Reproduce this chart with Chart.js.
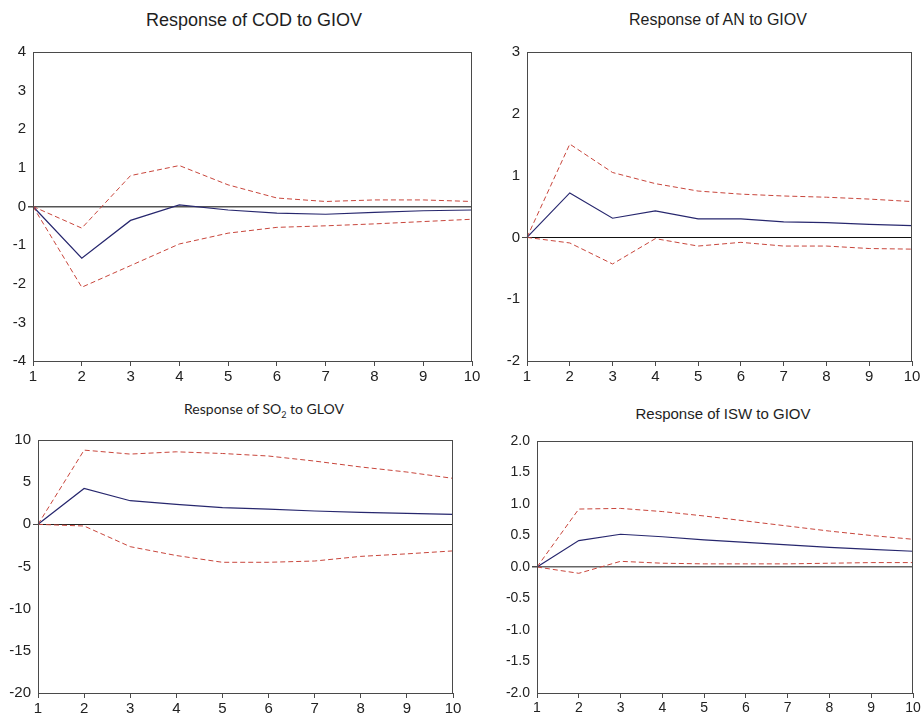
<!DOCTYPE html>
<html>
<head>
<meta charset="utf-8">
<script src="https://cdn.jsdelivr.net/npm/chart.js@4.4.1/dist/chart.umd.min.js"></script>
<style>
  body { margin: 0; background: #fff; width: 922px; height: 713px; position: relative; overflow: hidden; }
  canvas { position: absolute; }
  .ttl { position: absolute; color: #1e1e1e; white-space: nowrap; transform: translate(-50%, -50%); }
</style>
</head>
<body>
<div class="ttl" style="left:254px;top:20px;font:18px 'Liberation Sans',Arial,sans-serif;">Response of COD to GIOV</div>
<div class="ttl" style="left:718px;top:20px;font:16px 'Liberation Sans',Arial,sans-serif;">Response of AN to GIOV</div>
<div class="ttl" style="left:264px;top:410px;font:14px Lato,'Noto Sans',sans-serif;">Response of SO<sub style="font-size:9px">2</sub> to GLOV</div>
<div class="ttl" style="left:723px;top:413px;font:15px 'Liberation Sans',Arial,sans-serif;">Response of ISW to GIOV</div>

<canvas id="chartCod" width="486" height="346" style="left:0;top:40px"></canvas>
<canvas id="chartAn" width="432" height="346" style="left:490px;top:40px"></canvas>
<canvas id="chartSo2" width="467" height="285" style="left:0;top:428px"></canvas>
<canvas id="chartIsw" width="432" height="284" style="left:490px;top:429px"></canvas>

<script>
// periods after the shock
const periods = ['1', '2', '3', '4', '5', '6', '7', '8', '9', '10'];

// COD
const codResp  = [0, -1.34, -0.36, 0.04, -0.09, -0.17, -0.20, -0.15, -0.11, -0.09];
const codUpper = [0, -0.56, 0.80, 1.06, 0.56, 0.22, 0.13, 0.17, 0.17, 0.13];
const codLower = [0, -2.09, -1.53, -0.97, -0.69, -0.54, -0.50, -0.45, -0.39, -0.33];

// AN
const anResp  = [0, 0.72, 0.31, 0.43, 0.30, 0.30, 0.25, 0.24, 0.21, 0.19];
const anUpper = [0, 1.51, 1.05, 0.87, 0.75, 0.70, 0.67, 0.65, 0.62, 0.58];
const anLower = [0, -0.09, -0.43, -0.02, -0.14, -0.08, -0.14, -0.14, -0.18, -0.19];

// SO2
const so2Resp  = [0, 4.26, 2.80, 2.37, 1.97, 1.80, 1.58, 1.42, 1.30, 1.18];
const so2Upper = [0, 8.80, 8.33, 8.60, 8.40, 8.10, 7.50, 6.80, 6.20, 5.45];
const so2Lower = [0, -0.20, -2.65, -3.70, -4.50, -4.50, -4.35, -3.80, -3.50, -3.15];

// ISW
const iswResp  = [0, 0.42, 0.52, 0.48, 0.43, 0.39, 0.35, 0.31, 0.28, 0.25];
const iswUpper = [0, 0.92, 0.93, 0.88, 0.81, 0.73, 0.65, 0.57, 0.50, 0.44];
const iswLower = [0, -0.10, 0.09, 0.06, 0.05, 0.05, 0.05, 0.06, 0.07, 0.07];

// y axis ranges: [min, max, step]
const codRange = [-4, 4, 1];
const anRange  = [-2, 3, 1];
const so2Range = [-20, 10, 5];
const iswRange = [-2, 2, 0.5];

// box around the plot area
const frame = {
    id: 'frame',
    afterDatasetsDraw(chart) {
        const a = chart.chartArea;
        const ctx = chart.ctx;
        ctx.save();
        ctx.strokeStyle = '#4a4a4a';
        ctx.lineWidth = 1;
        ctx.strokeRect(Math.round(a.left) + 0.5, Math.round(a.top) + 0.5,
                       Math.round(a.right - a.left) - 1, Math.round(a.bottom - a.top));
        ctx.restore();
    }
};

function band(data) {
    return {
        data: data,
        borderColor: '#c8463c',
        borderWidth: 1,
        borderDash: [5, 3],
        pointRadius: 0,
        tension: 0,
        fill: false
    };
}

function makePanel(id, resp, upper, lower, range, opt)
{
    let chartData = {
        labels: periods,
        datasets: [
            band(upper),
            band(lower),
            {
                data: resp,
                borderColor: '#27276e',
                borderWidth: 1.2,
                pointRadius: 0,
                tension: 0,
                fill: false
            }
        ]
    };

    let config = {
        type: 'line',
        data: chartData,
        options: {
            responsive: false,
            animation: false,
            layout: { padding: { top: 12, right: opt.padRight, left: 0, bottom: 0 } },
            plugins: {
                legend: { display: false },
                tooltip: { enabled: false }
            },
            scales: {
                x: {
                    offset: false,
                    border: { display: false },
                    grid: { drawOnChartArea: false, drawTicks: true, tickLength: 5, tickColor: '#4a4a4a' },
                    ticks: {
                        color: '#222',
                        padding: 2,
                        maxRotation: 0,
                        autoSkip: false,
                        font: { family: "'Liberation Sans', Arial, sans-serif", size: opt.fontSize }
                    },
                    afterFit: (scale) => {
                        scale.height = opt.xHeight;
                        scale.paddingLeft = 0;
                        scale.paddingRight = 0;
                    }
                },
                y: {
                    min: range[0],
                    max: range[1],
                    border: { display: false },
                    grid: {
                        color: (c) => c.tick && c.tick.value === 0 ? opt.zeroColor : 'rgba(0,0,0,0)',
                        lineWidth: (c) => c.tick && c.tick.value === 0 ? opt.zeroWidth : 0,
                        tickColor: '#4a4a4a',
                        tickLength: 5,
                        drawTicks: true
                    },
                    ticks: {
                        stepSize: range[2],
                        color: '#222',
                        padding: 2,
                        font: { family: "'Liberation Sans', Arial, sans-serif", size: opt.fontSize },
                        callback: (v) => opt.decimals ? v.toFixed(1) : String(v)
                    },
                    afterFit: (scale) => {
                        scale.width = opt.yWidth;
                        scale.paddingTop = 0;
                        scale.paddingBottom = 0;
                    }
                }
            }
        },
        plugins: [frame]
    };

    return new Chart(document.getElementById(id), config);
}

makePanel('chartCod', codResp, codUpper, codLower, codRange,
          { yWidth: 33, xHeight: 25, padRight: 14, fontSize: 15, zeroColor: '#555', zeroWidth: 1.5, decimals: false });
makePanel('chartAn', anResp, anUpper, anLower, anRange,
          { yWidth: 37, xHeight: 25, padRight: 10, fontSize: 15, zeroColor: '#111', zeroWidth: 1, decimals: false });
makePanel('chartSo2', so2Resp, so2Upper, so2Lower, so2Range,
          { yWidth: 38, xHeight: 20, padRight: 14, fontSize: 15, zeroColor: '#222', zeroWidth: 1, decimals: false });
makePanel('chartIsw', iswResp, iswUpper, iswLower, iswRange,
          { yWidth: 47, xHeight: 20, padRight: 9, fontSize: 14, zeroColor: '#666', zeroWidth: 1.5, decimals: true });
</script>
</body>
</html>
